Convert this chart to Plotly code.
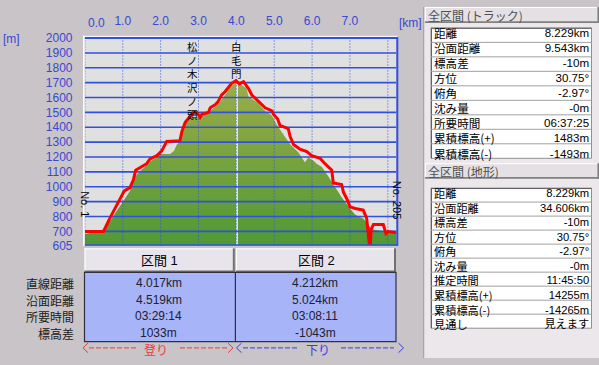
import plotly.graph_objects as go

W, H = 599, 365

# ---------------- data ----------------
track_km = [0.00, 0.49, 0.66, 0.84, 0.93, 1.04, 1.19, 1.28, 1.34, 1.50, 1.63, 1.72, 1.90, 2.03, 2.16,
            2.51, 2.56, 2.65, 2.78, 2.86, 2.96, 3.04, 3.09, 3.26, 3.31, 3.44, 3.52, 3.61, 3.70, 3.79,
            3.88, 3.99, 4.08, 4.19, 4.32, 4.41, 4.58, 4.76, 4.94, 4.98, 5.09, 5.15, 5.37, 5.42, 5.51,
            5.68, 5.86, 5.99, 6.21, 6.34, 6.52, 6.56, 6.78, 6.83, 6.92, 7.00, 7.14, 7.35, 7.44, 7.49,
            7.51, 7.54, 7.56, 7.62, 7.88, 7.95, 8.01, 8.19, 8.229]
track_elev = [699, 699, 789, 875, 918, 972, 994, 1047, 1112, 1133, 1155, 1187, 1209, 1241, 1305,
              1310, 1370, 1434, 1478, 1499, 1499, 1467, 1488, 1499, 1531, 1552, 1574, 1617, 1639, 1671,
              1697, 1714, 1692, 1707, 1660, 1617, 1574, 1531, 1510, 1488, 1456, 1413, 1391, 1338, 1284,
              1252, 1236, 1209, 1192, 1155, 1112, 1026, 1015, 962, 918, 865, 854, 843, 789, 682,
              617, 617, 714, 746, 746, 686, 699, 693, 693]

terrain_km = [0.00, 0.45, 0.51, 0.66, 0.93, 1.19, 1.32, 1.50, 1.72, 1.90, 1.98, 2.07, 2.25, 2.35,
              2.43, 2.49, 2.57, 2.65, 2.72, 2.86, 3.00, 3.09, 3.17, 3.31, 3.44, 3.57, 3.70, 3.83,
              3.99, 4.10, 4.27, 4.32, 4.45, 4.58, 4.76, 4.94, 5.07, 5.24, 5.42, 5.64, 5.81, 5.90,
              6.03, 6.12, 6.26, 6.43, 6.61, 6.78, 7.00, 7.14, 7.35, 7.49, 7.58, 7.80, 7.97, 8.229]
terrain_elev = [682, 704, 705, 768, 875, 972, 1069, 1112, 1170, 1196, 1222, 1220, 1220, 1241,
                1284, 1299, 1357, 1421, 1460, 1467, 1467, 1473, 1492, 1510, 1538, 1574, 1615, 1671,
                1697, 1692, 1660, 1607, 1585, 1563, 1510, 1480, 1415, 1349, 1286, 1230, 1165, 1196,
                1176, 1155, 1133, 1069, 994, 929, 854, 811, 786, 741, 714, 704, 693, 693]

section_split_km = 4.017
peak_elev = 1712

y_tick_vals = [605, 700, 800, 900, 1000, 1100, 1200, 1300, 1400, 1500, 1600, 1700, 1800, 1900, 2000]
y_grid_vals = [700, 800, 900, 1000, 1100, 1200, 1300, 1400, 1500, 1600, 1700, 1800, 1900, 2000]
x_tick_vals = [1, 2, 3, 4, 5, 6, 7]
x_tick_text = ["1.0", "2.0", "3.0", "4.0", "5.0", "6.0", "7.0"]
x_grid_vals = [0, 1, 2, 3, 4, 5, 6, 7, 8]
x_max = 8.229

place_labels = [("松ノ木沢ノ頭", 2.85), ("白毛門", 4.01)]

section_headers = ["区間 1", "区間 2"]
section_rows = ["直線距離", "沿面距離", "所要時間", "標高差"]
section1_vals = ["4.017km", "4.519km", "03:29:14", "1033m"]
section2_vals = ["4.212km", "5.024km", "03:08:11", "-1043m"]

track_title = "全区間 (トラック)"
track_rows = ["距離", "沿面距離", "標高差", "方位", "俯角", "沈み量", "所要時間", "累積標高(+)", "累積標高(-)"]
track_vals = ["8.229km", "9.543km", "-10m", "30.75°", "-2.97°", "-0m", "06:37:25", "1483m", "-1493m"]

terrain_title = "全区間 (地形)"
terrain_rows = ["距離", "沿面距離", "標高差", "方位", "俯角", "沈み量", "推定時間", "累積標高(+)", "累積標高(-)", "見通し"]
terrain_vals = ["8.229km", "34.606km", "-10m", "30.75°", "-2.97°", "-0m", "11:45:50", "14255m", "-14265m", "見えます"]

# ---------------- style ----------------
BLUE_TXT = "#3848d0"
GRID = "#3050e0"
FONT = "Liberation Sans, Noto Sans CJK JP"
CJK = "Noto Sans CJK JP"


def X(px):
    return px / W


def Y(py):
    return 1 - py / H


PX0, PX1 = 84.9, 396.5
PY0, PY1 = 32.3, 248.0

fig = go.Figure()

# terrain fill
fig.add_trace(go.Scatter(
    x=terrain_km, y=terrain_elev, mode="lines", fill="tozeroy",
    line=dict(width=0, color="rgba(0,0,0,0)"),
    fillgradient=dict(type="vertical", start=605, stop=1720,
                      colorscale=[[0, "#4c9834"], [0.5, "#74a23e"], [1, "#9cac4a"]]),
    hoverinfo="skip", showlegend=False))

# section divider (white)
fig.add_trace(go.Scatter(x=[section_split_km, section_split_km], y=[605, peak_elev], mode="lines",
                         line=dict(color="white", width=1.5), hoverinfo="skip", showlegend=False))

# horizontal grid lines (above fill)
hx, hy = [], []
for v in y_grid_vals:
    hx += [0, x_max, None]
    hy += [v, v, None]
fig.add_trace(go.Scatter(x=hx, y=hy, mode="lines", line=dict(color=GRID, width=1.6),
                         hoverinfo="skip", showlegend=False))
# vertical dotted grid lines
vx, vy = [], []
for v in x_grid_vals:
    vx += [v, v, None]
    vy += [605, 2000, None]
fig.add_trace(go.Scatter(x=vx, y=vy, mode="lines", line=dict(color=GRID, width=1, dash="1px,2px"),
                         hoverinfo="skip", showlegend=False))

# track
fig.add_trace(go.Scatter(x=track_km, y=track_elev, mode="lines",
                         line=dict(color="#ff0000", width=3), hoverinfo="skip", showlegend=False))

shapes = []
ann = []


def line(x0, y0, x1, y1, color, width=1, dash="solid"):
    shapes.append(dict(type="line", xref="paper", yref="paper", x0=X(x0), y0=Y(y0), x1=X(x1), y1=Y(y1),
                       line=dict(color=color, width=width, dash=dash), layer="above"))


def rect(x0, y0, x1, y1, fill, border=None, width=1):
    shapes.append(dict(type="rect", xref="paper", yref="paper", x0=X(x0), y0=Y(y1), x1=X(x1), y1=Y(y0),
                       fillcolor=fill, line=dict(color=border or "rgba(0,0,0,0)", width=width if border else 0),
                       layer="above"))


def text(px, py, s, size=13, color="black", anchor="center", family=FONT, angle=0, align="center"):
    ann.append(dict(xref="paper", yref="paper", x=X(px), y=Y(py), text=s, showarrow=False,
                    xanchor=anchor, yanchor="middle", textangle=angle, align=align, borderpad=0,
                    font=dict(size=size, color=color, family=family)))


# plot frame
line(83.8, 30.0, 83.8, 248.5, "white", 1.5)
line(83.0, 30.5, 397.5, 30.5, "white", 1)
line(PX0, 32.3, 398, 32.3, GRID, 2)
line(397.3, 31.3, 397.3, 248.3, GRID, 2)
line(PX0, 247.6, 398, 247.6, GRID, 1.5)

# axis extra labels
text(11, 33, "[m]", 12, BLUE_TXT)
text(96.7, 16.7, "0.0", 12, BLUE_TXT)
text(410, 16.7, "[km]", 12, BLUE_TXT)

# start / end labels
text(85.5, 204.5, "No. 1", 11, "black", angle=90)
text(396.5, 201, "No. 205", 11, "black", angle=90)

# vertical place names (x positioned through the x axis), stacked characters
for name, km in place_labels:
    ann.append(dict(xref="x", yref="paper", x=km, y=Y(32.5), text="<br>".join(name), showarrow=False,
                    xanchor="center", yanchor="top", align="center", borderpad=0,
                    font=dict(size=10.5, color="black", family=CJK)))

# ---------------- section table ----------------
hdr_y0, hdr_y1 = 251, 276
body_y1 = 348
cols = [(84.5, 234.8), (236.0, 396.0)]
for (c0, c1), h in zip(cols, section_headers):
    rect(c0, hdr_y0, c1, hdr_y1, "#e8e4ec")
    line(c0, hdr_y0 + 0.5, c1, hdr_y0 + 0.5, "white", 1)
    line(c0 + 0.5, hdr_y0, c0 + 0.5, hdr_y1, "white", 1)
    line(c0, hdr_y1 - 1, c1, hdr_y1 - 1, "#707070", 2)
    line(c1 - 1, hdr_y0, c1 - 1, hdr_y1, "#707070", 2)
    text((c0 + c1) / 2, 263.5, h, 13, "black", family=FONT)
rect(84.5, hdr_y1, 396.0, body_y1, "#a8b4f8", "#303040", 1.2)
line(235.4, hdr_y1, 235.4, body_y1, "#303040", 1.2)
row_y = [286.7, 304.2, 321.7, 339.0]
for ry, lab, v1, v2 in zip(row_y, section_rows, section1_vals, section2_vals):
    text(74.5, ry + 0.5, lab, 12.0, "#202020", anchor="right", family=CJK)
    text(158.5, ry, v1, 12, "#202030")
    text(315.0, ry, v2, 12, "#202030")

# up / down arrows
for (x0, x1, label, col, lx, ds0, ds1) in [
        (83, 233, "登り", "#f03838", 156, (89, 137), (180, 227)),
        (236.5, 403.5, "下り", "#3838f0", 318, (243, 298), (341, 394))]:
    shapes.append(dict(type="path", xref="paper", yref="paper",
                       path=f"M {X(x0 + 5)} {Y(349.5)} L {X(x0)} {Y(354.5)} L {X(x0 + 5)} {Y(359.5)}",
                       line=dict(color=col, width=1), layer="above"))
    shapes.append(dict(type="path", xref="paper", yref="paper",
                       path=f"M {X(x1 - 5)} {Y(349.5)} L {X(x1)} {Y(354.5)} L {X(x1 - 5)} {Y(359.5)}",
                       line=dict(color=col, width=1), layer="above"))
    line(ds0[0], 354.5, ds0[1], 354.5, col, 1, "5px,2px")
    line(ds1[0], 354.5, ds1[1], 354.5, col, 1, "5px,2px")
    text(lx, 356.0, label, 12, col, family=CJK)

# ---------------- right panel ----------------
rect(424.5, 0, 599, 365, "#ebe7eb")
line(423.5, 0, 423.5, 365, "#a8a4a8", 1)


def panel(title, ty0, ty1, rows, vals, tb0, rh):
    rect(425, ty0, 598.5, ty1, "#e4e0e4")
    line(425, ty0 + 0.5, 598.5, ty0 + 0.5, "white", 1)
    line(425.5, ty0, 425.5, ty1, "white", 1)
    line(425, ty1 - 0.8, 599, ty1 - 0.8, "#808080", 1.6)
    line(598.2, ty0, 598.2, ty1, "#808080", 1.6)
    text(427, (ty0 + ty1) / 2 + 0.5, title, 12, "#505050", anchor="left", family=CJK)
    tb1 = tb0 + rh * len(rows)
    rect(431, tb0, 591.5, tb1, "white", "#909090", 1)
    line(431.5, tb0, 431.5, tb1, "#606060", 1)
    line(431, tb0 + 0.5, 591.5, tb0 + 0.5, "#606060", 1)
    for i in range(1, len(rows)):
        line(431, tb0 + rh * i, 591.5, tb0 + rh * i, "#a0a0a0", 1)
    fs = rh / 1.3
    cy = (tb0 + tb1) / 2 + 0.5
    text(432.5, cy, "<br>".join(rows), fs, "black", anchor="left", family=CJK, align="left")
    text(590, cy, "<br>".join(vals), fs, "black", anchor="right", family=FONT, align="right")


panel(track_title, 0, 16.5, track_rows, track_vals, 21.7, 15.07)
panel(terrain_title, 162.5, 178.5, terrain_rows, terrain_vals, 188.3, 14.57)

fig.update_layout(
    width=W, height=H, margin=dict(l=0, r=0, t=0, b=0),
    paper_bgcolor="#c8c4c8", plot_bgcolor="#e0e0e0",
    showlegend=False, shapes=shapes, annotations=ann,
    xaxis=dict(domain=[X(PX0), X(PX1)], range=[0, x_max], side="top", showgrid=False, zeroline=False,
               tickvals=x_tick_vals, ticktext=x_tick_text, ticks="outside", ticklen=7,
               tickcolor="rgba(0,0,0,0)", tickfont=dict(size=12, color=BLUE_TXT, family="Liberation Sans"),
               showline=False, fixedrange=True),
    yaxis=dict(domain=[Y(PY1), Y(PY0)], range=[605, 2000], showgrid=False, zeroline=False,
               tickvals=y_tick_vals, ticktext=[str(v) for v in y_tick_vals], ticks="outside", ticklen=9,
               tickcolor="rgba(0,0,0,0)", tickfont=dict(size=12, color=BLUE_TXT, family="Liberation Sans"),
               showline=False, fixedrange=True),
)

fig.write_html("out.html", config={"displayModeBar": False})
